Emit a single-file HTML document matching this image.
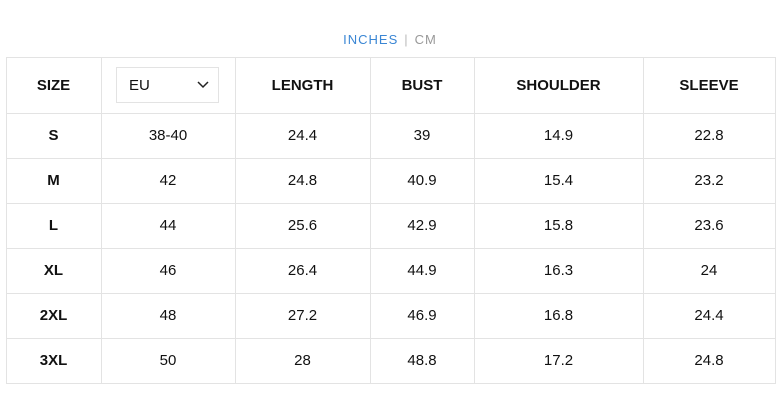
<!DOCTYPE html>
<html><head><style>
body{margin:0;width:780px;height:408px;background:#fff;font-family:"Liberation Sans",Arial,sans-serif;position:relative;overflow:hidden}
.top{position:absolute;top:32px;left:0;width:780px;text-align:center;font-size:13px;letter-spacing:1px;color:#999}
.top .a{color:#3a86d4}
.top .sep{color:#bbb;margin:0 6px}
.h{position:absolute;background:#e3e3e3}
.c{position:absolute;display:flex;align-items:center;justify-content:center;font-size:15px;color:#111}
.b{font-weight:bold}
.dd{position:absolute;left:116px;top:67px;width:101px;height:34px;border:1px solid #e3e3e3;font-size:15px;color:#111}
</style></head><body>
<div class="top"><span class="a">INCHES</span><span class="sep">|</span>CM</div>
<div id="g"></div>
<div class="dd"><span style="position:absolute;left:12px;top:9px">EU</span>
<svg style="position:absolute;left:80px;top:13px" width="12" height="8"><path d="M1 1 L6 6 L11 1" fill="none" stroke="#222" stroke-width="1.5"/></svg></div>
<script>
var xs=[6,101,235,370,474,643,775],ys=[57,113,158,203,248,293,338,383];
var g=document.getElementById('g'),h='';
xs.forEach(x=>h+=`<div class="h" style="left:${x}px;top:57px;width:1px;height:327px"></div>`);
ys.forEach(y=>h+=`<div class="h" style="left:6px;top:${y}px;width:770px;height:1px"></div>`);
var rows=[["SIZE","","LENGTH","BUST","SHOULDER","SLEEVE"],
["S","38-40","24.4","39","14.9","22.8"],["M","42","24.8","40.9","15.4","23.2"],
["L","44","25.6","42.9","15.8","23.6"],["XL","46","26.4","44.9","16.3","24"],
["2XL","48","27.2","46.9","16.8","24.4"],["3XL","50","28","48.8","17.2","24.8"]];
rows.forEach((r,i)=>r.forEach((t,j)=>{
h+=`<div class="c ${i==0||j==0?'b':''}" style="left:${xs[j]}px;top:${ys[i]}px;width:${xs[j+1]-xs[j]}px;height:${ys[i+1]-ys[i]}px">${t}</div>`}));
g.innerHTML=h;
</script>
</body></html>
